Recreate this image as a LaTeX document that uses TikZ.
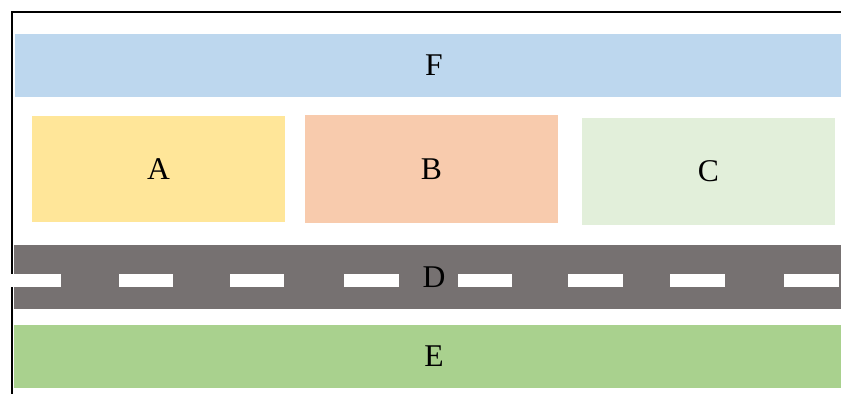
\documentclass[tikz,border=0pt]{standalone}
\usepackage{fontspec}
\setmainfont{Liberation Serif}
\definecolor{zoneF}{HTML}{BDD7EE}
\definecolor{zoneA}{HTML}{FFE699}
\definecolor{zoneB}{HTML}{F8CBAD}
\definecolor{zoneC}{HTML}{E2EFDA}
\definecolor{road}{HTML}{767171}
\definecolor{zoneE}{HTML}{A9D18E}
\begin{document}
\begin{tikzpicture}[x=0.02cm,y=-0.02cm,
    zone/.style={rectangle,inner sep=0pt,font=\fontsize{18}{20}\selectfont}]
          \useasboundingbox (0,0) rectangle (841,394);
          \draw[line width=0.7pt] (12,394) -- (12,12) -- (853,12);
          \node[zone,fill=zoneF,minimum width=16.76cm,minimum height=1.26cm] (F) at (434,65.5) {F};
          \node[zone,fill=zoneA,minimum width=5.06cm,minimum height=2.12cm] (A) at (158.5,169) {A};
          \node[zone,fill=zoneB,minimum width=5.06cm,minimum height=2.16cm] (B) at (431.5,169) {B};
          \node[zone,fill=zoneC,minimum width=5.06cm,minimum height=2.14cm] (C) at (708.5,171.5) {C};
          \node[zone,fill=road,minimum width=16.8cm,minimum height=1.28cm] (D) at (434,277) {D};
          \node[zone,fill=zoneE,minimum width=16.8cm,minimum height=1.26cm] (E) at (434,356.5) {E};
          % lane markings
          \foreach \a/\b in {10/61,119/173,230/284,344/399,458/512,568/623,670/725,784/839}
            \fill[white] (\a,274) rectangle (\b,287);
        \end{tikzpicture}
\end{document}
